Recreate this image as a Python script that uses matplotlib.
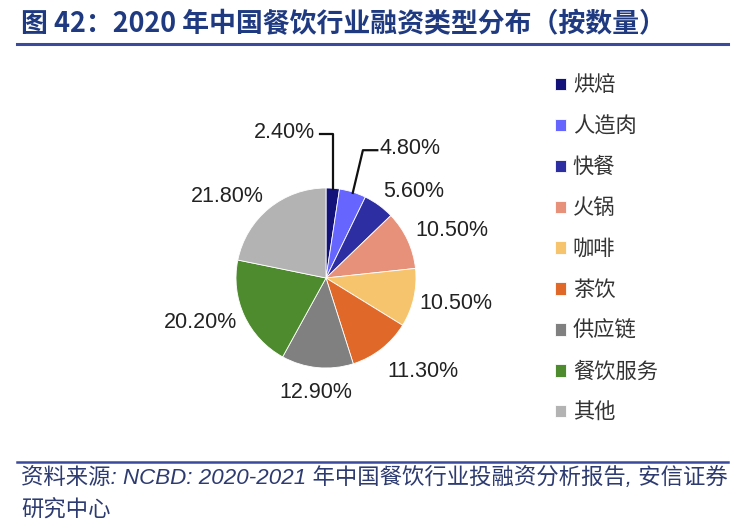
import matplotlib
matplotlib.use("Agg")
import matplotlib.pyplot as plt
import numpy as np
from matplotlib.lines import Line2D

categories = ["烘焙", "人造肉", "快餐", "火锅", "咖啡", "茶饮", "供应链", "餐饮服务", "其他"]
values = [2.4, 4.8, 5.6, 10.5, 10.5, 11.3, 12.9, 20.2, 21.8]
labels = ["2.40%", "4.80%", "5.60%", "10.50%", "10.50%", "11.30%", "12.90%", "20.20%", "21.80%"]
colors = ["#12127a", "#6666ff", "#2e2ea3", "#e8917a", "#f7c46e", "#e0692a",
          "#808080", "#4e8a2e", "#b3b3b3"]

# label positions (in pie-radius units) – layout only
label_pos = [(-0.46, 1.62), (0.93, 1.44), (0.97, 0.96), (1.40, 0.53), (1.44, -0.28),
             (1.08, -1.04), (-0.11, -1.27), (-1.40, -0.50), (-1.10, 0.91)]

W, H = 751, 526
fig = plt.figure(figsize=(W / 100, H / 100), dpi=100)
fig.patch.set_facecolor("white")

cx, cy, R = 326, 278, 90
ax = fig.add_axes([(cx - R) / W, (H - cy - R) / H, 2 * R / W, 2 * R / H])
wedges, _ = ax.pie(values, colors=colors, startangle=90, counterclock=False,
                   radius=1, wedgeprops=dict(linewidth=0.6, edgecolor="white"))
ax.set_xlim(-1, 1)
ax.set_ylim(-1, 1)
ax.set_aspect("equal")
ax.axis("off")

num_font = "Liberation Sans"
for lab, (x, y) in zip(labels, label_pos):
    ax.text(x, y, lab, ha="center", va="center", fontsize=15.5, family=num_font,
            color="#222222", clip_on=False)

# leader lines for the two small slices
cum = np.cumsum([0] + values)
def edge_point(i):
    mid = (cum[i] + cum[i + 1]) / 2 / 100 * 360
    a = np.deg2rad(90 - mid)
    return np.cos(a), np.sin(a)

ex, ey = edge_point(0)
ax.add_line(Line2D([-0.07, ex, ex], [1.60, 1.60, ey * 0.99], color="#111111", lw=1.6, clip_on=False))
ex, ey = edge_point(1)
ax.add_line(Line2D([0.57, 0.41, ex], [1.42, 1.42, ey * 0.99], color="#111111", lw=1.6, clip_on=False))

# legend
leg = fig.legend(wedges, categories, loc="upper left", bbox_to_anchor=(555 / W, 1 - 74.5 / H),
                 frameon=False, borderpad=0, borderaxespad=0,
                 handlelength=0.52, handleheight=0.52, handletextpad=0.32,
                 labelspacing=0.89, prop=dict(family="Noto Sans CJK SC", size=15.3))
for t in leg.get_texts():
    t.set_color("#333333")

# title
fig.text(21 / W, 1 - 24 / H, "图 42：2020 年中国餐饮行业融资类型分布（按数量）",
         ha="left", va="center", fontsize=19.4, fontweight="bold",
         family=["Noto Sans CJK SC", "DejaVu Sans"], color="#1f3a80")
fig.add_artist(Line2D([17 / W, 728 / W], [1 - 43.5 / H, 1 - 43.5 / H], color="#3a4a9c", lw=2.2,
                      transform=fig.transFigure))

# footer
fig.add_artist(Line2D([17 / W, 728 / W], [1 - 461.5 / H, 1 - 461.5 / H], color="#3a4a9c", lw=1.8,
                      transform=fig.transFigure))
foot_family = ["Liberation Sans", "Noto Sans CJK SC", "DejaVu Sans"]
fig.text(21 / W, 1 - 478 / H, "资料来源: NCBD: 2020-2021 年中国餐饮行业投融资分析报告, 安信证券",
         ha="left", va="center", fontsize=16.1, style="italic",
         family=foot_family, color="#2d3b70")
fig.text(21 / W, 1 - 511 / H, "研究中心",
         ha="left", va="center", fontsize=16.1, style="italic",
         family=foot_family, color="#2d3b70")

fig.savefig("out.png", dpi=100, facecolor="white")
